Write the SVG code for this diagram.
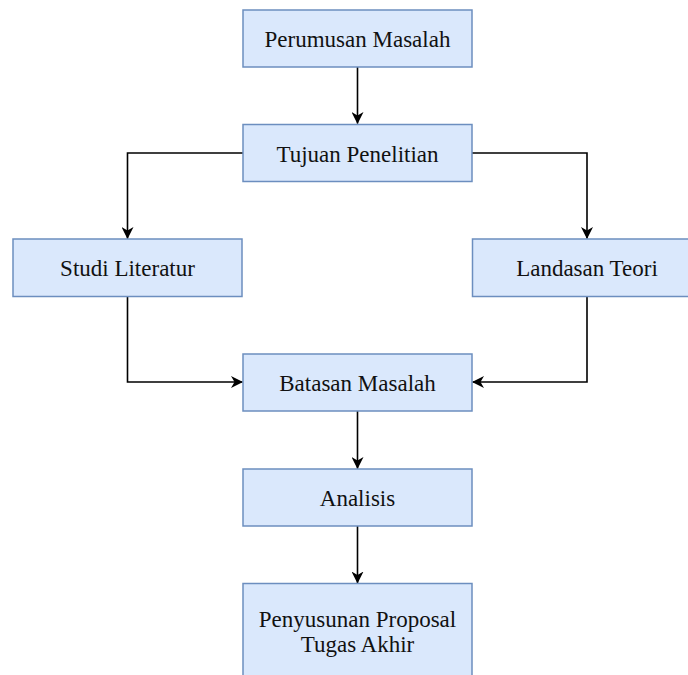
<svg xmlns="http://www.w3.org/2000/svg" width="688" height="675" viewBox="0 0 688 675">
<style>
.box{fill:#dae8fc;stroke:#6c8ebf;stroke-width:1.5}
.lbl{font-family:"Liberation Serif","Times New Roman",serif;font-size:23px;fill:#111;text-anchor:middle}
.edge{fill:none;stroke:#000;stroke-width:1.6}
</style>
<defs>
<marker id="arr" viewBox="0 0 12 12" refX="11.5" refY="6" markerWidth="12" markerHeight="12" markerUnits="userSpaceOnUse" orient="auto">
<path d="M0,0 L12,6 L0,12 L3.5,6 Z" fill="#000"/>
</marker>
</defs>
<rect width="688" height="675" fill="#fff"/>
<g id="connectors">
<path class="edge" d="M357.5,67 V123.5" marker-end="url(#arr)"/>
<path class="edge" d="M243,153 H127.5 V238.5" marker-end="url(#arr)"/>
<path class="edge" d="M472,153 H587 V238.5" marker-end="url(#arr)"/>
<path class="edge" d="M127.5,297 V382 H242.5" marker-end="url(#arr)"/>
<path class="edge" d="M587,297 V382 H472.5" marker-end="url(#arr)"/>
<path class="edge" d="M357.5,411 V468.5" marker-end="url(#arr)"/>
<path class="edge" d="M357.5,526 V583" marker-end="url(#arr)"/>
</g>
<g id="perumusan"><rect class="box" x="243" y="10" width="229" height="57"/><text class="lbl" x="357.5" y="46.5">Perumusan Masalah</text></g>
<g id="tujuan"><rect class="box" x="243" y="124.5" width="229" height="57"/><text class="lbl" x="357.5" y="161.5">Tujuan Penelitian</text></g>
<g id="studi"><rect class="box" x="13" y="239" width="229" height="57.5"/><text class="lbl" x="127.5" y="276">Studi Literatur</text></g>
<g id="landasan"><rect class="box" x="472.5" y="239" width="229" height="57.5"/><text class="lbl" x="587" y="276">Landasan Teori</text></g>
<g id="batasan"><rect class="box" x="243" y="354" width="229" height="57"/><text class="lbl" x="357.5" y="390.5">Batasan Masalah</text></g>
<g id="analisis"><rect class="box" x="243" y="469" width="229" height="57"/><text class="lbl" x="357.5" y="505.5">Analisis</text></g>
<g id="penyusunan"><rect class="box" x="243" y="583.5" width="229" height="100"/><text class="lbl" x="357.5" y="627">Penyusunan Proposal</text><text class="lbl" x="357.5" y="652">Tugas Akhir</text></g>
</svg>
